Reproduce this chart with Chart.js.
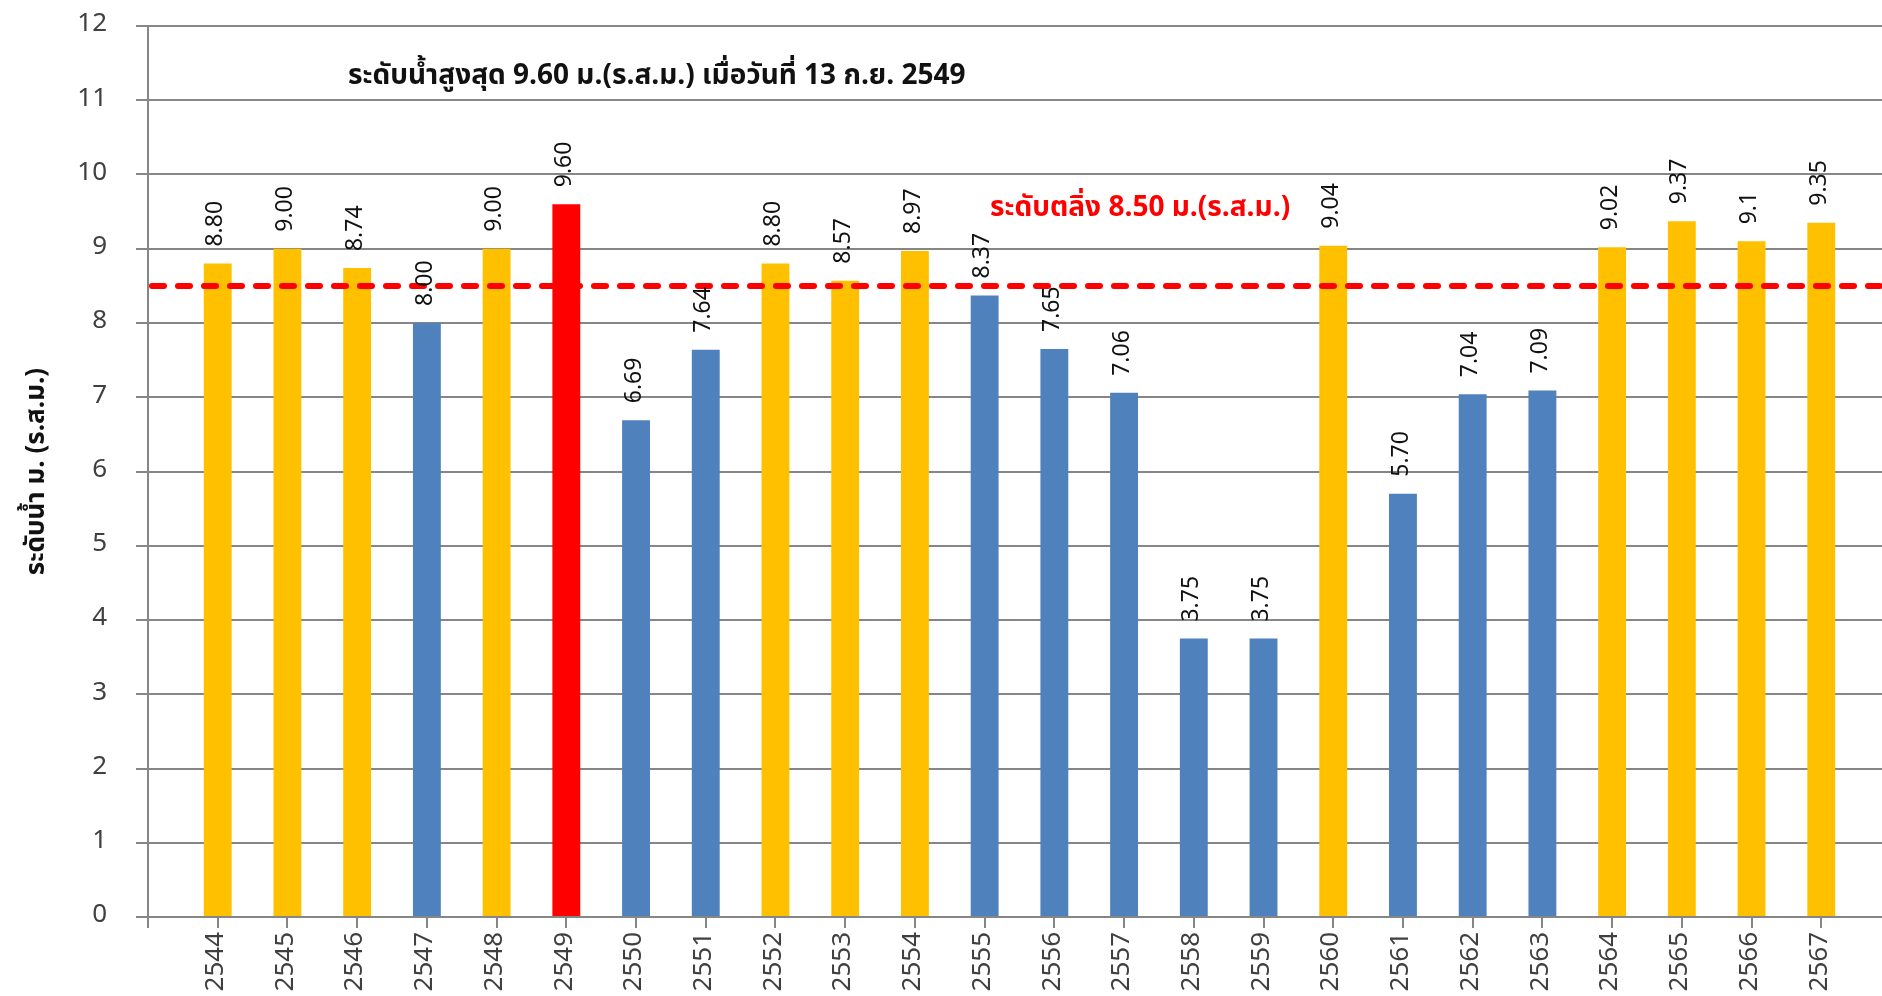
<!DOCTYPE html>
<html>
<head>
<meta charset="utf-8">
<script src="https://cdn.jsdelivr.net/npm/chart.js@4.4.1/dist/chart.umd.min.js"></script>
<style>
    html, body { margin: 0; padding: 0; background: #fff; overflow: hidden; }
    #wrap { width: 1892px; height: 996px; }
</style>
</head>
<body>
<div id="wrap"><canvas id="LevelChart"></canvas></div>
<script>
// ปี พ.ศ.
const years = ['2544', '2545', '2546', '2547', '2548', '2549', '2550', '2551', '2552', '2553', '2554', '2555',
               '2556', '2557', '2558', '2559', '2560', '2561', '2562', '2563', '2564', '2565', '2566', '2567'];
// ระดับน้ำสูงสุดแต่ละปี (ม.ร.ส.ม.)
const levels = [8.80, 9.00, 8.74, 8.00, 9.00, 9.60, 6.69, 7.64, 8.80, 8.57, 8.97, 8.37,
                7.65, 7.06, 3.75, 3.75, 9.04, 5.70, 7.04, 7.09, 9.02, 9.37, 9.10, 9.35];
// ตัวเลขที่แสดงบนแท่ง
const levelLabels = ['8.80', '9.00', '8.74', '8.00', '9.00', '9.60', '6.69', '7.64', '8.80', '8.57', '8.97', '8.37',
                     '7.65', '7.06', '3.75', '3.75', '9.04', '5.70', '7.04', '7.09', '9.02', '9.37', '9.1', '9.35'];
const yTicks = [0, 1, 2, 3, 4, 5, 6, 7, 8, 9, 10, 11, 12];
const bankLevel = 8.50;
const titleText = 'ระดับน้ำสูงสุด 9.60 ม.(ร.ส.ม.) เมื่อวันที่ 13 ก.ย. 2549';
const bankText = 'ระดับตลิ่ง 8.50 ม.(ร.ส.ม.)';

const FONT = 'Tahoma, "Noto Sans Thai", "Noto Sans", "DejaVu Sans", sans-serif';

// ช่องว่างหน้าและหลัง เหมือนกราฟต้นฉบับ
const labels = [''].concat(years, ['']);
const data = [null].concat(levels, [null]);
const maxLevel = Math.max(...levels);
const colors = data.map(v => {
    if (v === null) return 'rgba(0,0,0,0)';
    if (v === maxLevel) return '#FF0000';
    if (v > bankLevel) return '#FFC000';
    return '#4F81BD';
});

// ตัวเลขแนวตั้ง + เส้นตลิ่ง + ข้อความ
const overlayPlugin = {
    id: 'overlayPlugin',
    afterDatasetsDraw: (chart) => {
        const { ctx, chartArea, scales } = chart;
        const y = scales.y;

        // เส้นประระดับตลิ่ง
        const yb = y.getPixelForValue(bankLevel);
        ctx.save();
        ctx.strokeStyle = '#FF0000';
        ctx.lineWidth = 6;
        ctx.lineCap = 'round';
        ctx.setLineDash([12, 14]);
        ctx.beginPath();
        ctx.moveTo(chartArea.left + 4, yb);
        ctx.lineTo(chartArea.right + 20, yb);
        ctx.stroke();
        ctx.restore();

        // ตัวเลขบนแท่ง
        const meta = chart.getDatasetMeta(0);
        ctx.save();
        ctx.font = '23px ' + FONT;
        ctx.fillStyle = '#111';
        ctx.textAlign = 'left';
        ctx.textBaseline = 'middle';
        meta.data.forEach((bar, i) => {
            if (data[i] === null) return;
            ctx.save();
            ctx.translate(bar.x, bar.y - 17);
            ctx.rotate(-Math.PI / 2);
            ctx.fillText(levelLabels[i - 1], 0, 0);
            ctx.restore();
        });
        ctx.restore();

        // ข้อความ
        ctx.save();
        ctx.textAlign = 'left';
        ctx.textBaseline = 'middle';
        ctx.font = 'bold 28px ' + FONT;
        ctx.fillStyle = '#111';
        ctx.fillText(titleText, chartArea.left + 200, y.getPixelForValue(11.30));
        ctx.fillStyle = '#FF0000';
        ctx.fillText(bankText, chartArea.left + 842, y.getPixelForValue(9.52));
        ctx.restore();
    }
};

new Chart(document.getElementById('LevelChart'), {
    type: 'bar',
    data: {
        labels: labels,
        datasets: [{
            data: data,
            backgroundColor: colors,
            borderWidth: 0,
            barPercentage: 0.4,
            categoryPercentage: 1.0
        }]
    },
    options: {
        responsive: true,
        maintainAspectRatio: false,
        animation: false,
        layout: { padding: { top: 26, right: 1, left: 0, bottom: 0 } },
        plugins: {
            legend: { display: false },
            tooltip: { enabled: false }
        },
        scales: {
            x: {
                offset: false,
                grid: {
                    offset: false,
                    drawOnChartArea: false,
                    drawTicks: true,
                    tickLength: 11,
                    color: '#868686',
                    lineWidth: 2
                },
                border: { color: '#868686', width: 2 },
                ticks: {
                    autoSkip: false,
                    maxRotation: 90,
                    minRotation: 90,
                    padding: 4,
                    color: '#404040',
                    font: { size: 26, family: FONT }
                },
                afterFit: (scale) => {
                    scale.height = 79;
                    scale.paddingLeft = 0;
                    scale.paddingRight = 0;
                }
            },
            y: {
                min: 0,
                max: 12,
                afterBuildTicks: (scale) => { scale.ticks = yTicks.map(v => ({ value: v })); },
                grid: {
                    color: '#868686',
                    lineWidth: 2,
                    tickLength: 12
                },
                border: { color: '#868686', width: 2 },
                ticks: {
                    padding: 29,
                    color: '#404040',
                    font: { size: 26, family: FONT }
                },
                title: {
                    display: true,
                    text: 'ระดับน้ำ ม. (ร.ส.ม.)',
                    color: '#111',
                    font: { size: 26, weight: 'bold', family: FONT },
                    padding: { top: 23, bottom: 0 }
                },
                afterFit: (scale) => {
                    scale.width = 148;
                    scale.paddingTop = 0;
                    scale.paddingBottom = 0;
                }
            }
        }
    },
    plugins: [overlayPlugin]
});
</script>
</body>
</html>
